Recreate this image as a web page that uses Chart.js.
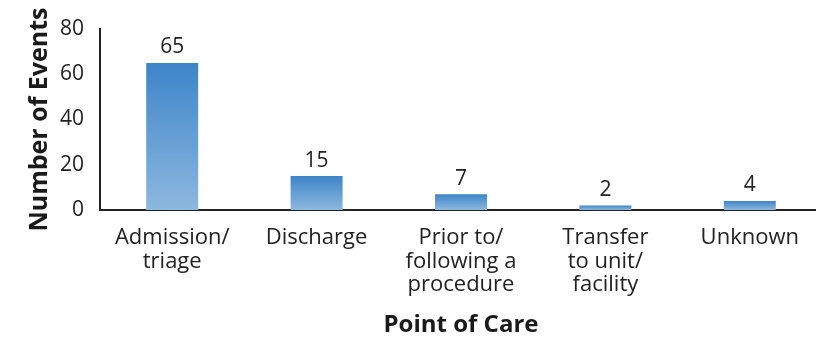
<!DOCTYPE html>
<html>
<head>
<meta charset="utf-8">
<script src="https://cdn.jsdelivr.net/npm/chart.js@4"></script>
<style>
  html, body { margin: 0; padding: 0; background: #fff; overflow: hidden; }
  #wrap { width: 822px; height: 340px; position: relative; }
</style>
</head>
<body>
<div id="wrap"><canvas id="careChart"></canvas></div>
<script>
  // Events by point of care
  const categories = [
    ['Admission/', 'triage'],
    ['Discharge'],
    ['Prior to/', 'following a', 'procedure'],
    ['Transfer', 'to unit/', 'facility'],
    ['Unknown']
  ];
  const eventCounts = [65, 15, 7, 2, 4];
  const yTicks = [0, 20, 40, 60, 80];

  const fontFamily = '"Open Sans", "Noto Sans", sans-serif';
  const textColor = '#222';

  // Vertical gradient per bar: darker at the top, lighter at the base
  function barGradient(context) {
    const chart = context.chart;
    const y = chart.scales.y;
    if (!chart.chartArea || !y || context.type !== 'data') return '#4a8bcb';
    const top = y.getPixelForValue(context.raw);
    const base = y.getPixelForValue(0);
    if (!isFinite(top) || !isFinite(base) || top >= base) return '#4a8bcb';
    const g = chart.ctx.createLinearGradient(0, top, 0, base);
    g.addColorStop(0, '#3d85c9');
    g.addColorStop(1, '#8db8df');
    return g;
  }

  // Value labels above each bar
  const valueLabels = {
    id: 'valueLabels',
    afterDatasetsDraw(chart) {
      const ctx = chart.ctx;
      const meta = chart.getDatasetMeta(0);
      ctx.save();
      ctx.font = '21px ' + fontFamily;
      ctx.fillStyle = textColor;
      ctx.textAlign = 'center';
      ctx.textBaseline = 'bottom';
      meta.data.forEach((bar, i) => {
        ctx.fillText(String(eventCounts[i]), bar.x, bar.y - 5);
      });
      ctx.restore();
    }
  };

  new Chart(document.getElementById('careChart'), {
    type: 'bar',
    data: {
      labels: categories,
      datasets: [{
        label: 'Number of Events',
        data: eventCounts,
        backgroundColor: barGradient,
        barPercentage: 0.72,
        categoryPercentage: 0.5
      }]
    },
    options: {
      responsive: true,
      maintainAspectRatio: false,
      animation: false,
      layout: { padding: { top: 29, right: 0, bottom: 0, left: 0 } },
      plugins: {
        legend: { display: false },
        tooltip: { enabled: false }
      },
      scales: {
        x: {
          grid: { display: false },
          border: { display: true, color: '#222', width: 2 },
          ticks: {
            color: textColor,
            font: { family: fontFamily, size: 22, lineHeight: 1.07 },
            padding: 8,
            maxRotation: 0,
            autoSkip: false
          },
          title: {
            display: true,
            text: 'Point of Care',
            color: '#1a1a1a',
            font: { family: fontFamily, size: 24, weight: 'bold' },
            padding: { top: 2, bottom: 0 }
          },
          afterFit(scale) { scale.height = 130; }
        },
        y: {
          min: 0,
          max: 80,
          grid: { display: false },
          border: { display: true, color: '#222', width: 2 },
          afterBuildTicks(scale) { scale.ticks = yTicks.map(v => ({ value: v })); },
          ticks: {
            color: textColor,
            font: { family: fontFamily, size: 21 },
            padding: 8
          },
          title: {
            display: true,
            text: 'Number of Events',
            color: '#1a1a1a',
            font: { family: fontFamily, size: 25, weight: 'bold' },
            padding: { top: 25, bottom: 0 }
          },
          afterFit(scale) { scale.width = 100; }
        }
      }
    },
    plugins: [valueLabels]
  });
</script>
</body>
</html>
